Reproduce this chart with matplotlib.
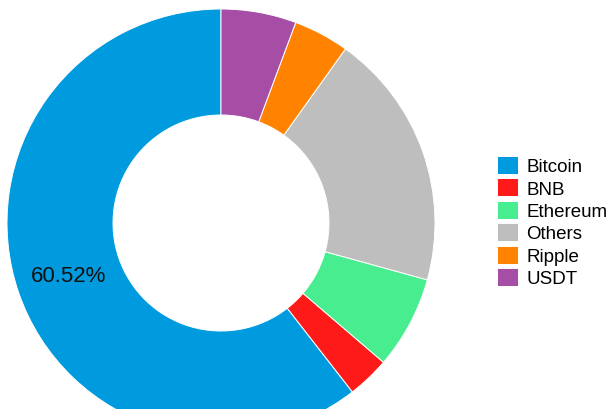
import matplotlib
matplotlib.use("Agg")
import matplotlib.pyplot as plt

# market share of crypto currencies (percent)
coins  = ["Bitcoin", "BNB", "Ethereum", "Others", "Ripple", "USDT"]
shares = [60.52, 3.20, 7.00, 19.40, 4.20, 5.68]
colours = ["#009ADE", "#FF1A1A", "#48ED8F", "#BEBEBE", "#FF8200", "#A64EA6"]

plt.rcParams["font.family"] = ["Liberation Sans", "DejaVu Sans"]

fig = plt.figure(figsize=(6.15, 4.10), dpi=100)
# donut centre at (221, 224) px, outer radius 214 px
ax = fig.add_axes([7 / 615, (186 - 214) / 410, 428 / 615, 428 / 410])

hole = 108 / 214
wedges, _, autotexts = ax.pie(
    shares,
    colors=colours,
    startangle=90,
    counterclock=True,
    radius=1.0,
    autopct=lambda p: f"{p:.2f}%" if p > 50 else "",
    pctdistance=(1 + hole) / 2,
    wedgeprops=dict(width=1 - hole, edgecolor="white", linewidth=0.7),
    textprops=dict(fontsize=16, color="#111111"),
)
ax.set_xlim(-1, 1)
ax.set_ylim(-1, 1)
ax.axis("off")

fig.legend(
    wedges, coins,
    loc="upper left",
    bbox_to_anchor=(497 / 615, (410 - 157) / 410),
    frameon=False,
    fontsize=13.5,
    handlelength=1.1,
    handleheight=1.1,
    handletextpad=0.45,
    labelspacing=0.16,
    borderpad=0,
    borderaxespad=0,
)

fig.savefig("out.png", dpi=100)
